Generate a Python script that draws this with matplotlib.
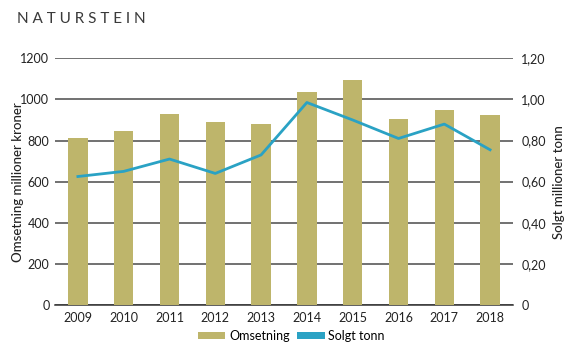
import matplotlib
matplotlib.use("Agg")
import matplotlib.pyplot as plt
import numpy as np

years = ["2009", "2010", "2011", "2012", "2013", "2014", "2015", "2016", "2017", "2018"]
omsetning = [812, 848, 928, 890, 882, 1035, 1095, 906, 948, 925]
solgt_tonn = [0.625, 0.650, 0.710, 0.640, 0.730, 0.985, 0.900, 0.810, 0.880, 0.755]
left_ticks = [0, 200, 400, 600, 800, 1000, 1200]
right_ticks = [0, 0.2, 0.4, 0.6, 0.8, 1.0, 1.2]
right_labels = ["0", "0,20", "0,40", "0,60", "0,80", "1,00", "1,20"]

plt.rcParams['font.family'] = ['Lato', 'DejaVu Sans']

fig = plt.figure(figsize=(5.71, 3.54), dpi=100)
ax = fig.add_axes([0.0963, 0.1384, 0.8021, 0.6969])
x = np.arange(len(years))

bar_color = "#BEB56B"
line_color = "#2AA2C4"

ax.bar(x, omsetning, width=0.42, color=bar_color, zorder=3, label="Omsetning")
ax.set_xlim(-0.5, len(years) - 0.5)
ax.set_ylim(0, 1200)
ax.set_yticks(left_ticks)
ax.set_yticklabels([str(t) for t in left_ticks])
ax.yaxis.grid(True, color="#4a4a4a", linewidth=1.1, zorder=0)
ax.set_axisbelow(True)
for s in ["top", "right", "left"]:
    ax.spines[s].set_visible(False)
ax.spines["bottom"].set_color("#333333")
ax.spines["bottom"].set_linewidth(1.1)
ax.tick_params(axis="y", length=0, pad=4, labelsize=9, labelcolor="#222222")
ax.tick_params(axis="x", length=0, pad=5, labelsize=9, labelcolor="#222222")
ax.set_xticks(x)
ax.set_xticklabels(years)
ax.set_ylabel("Omsetning millioner kroner", fontsize=9.5, color="#222222",
              fontweight="medium")
ax.yaxis.set_label_coords(-0.068, 0.5)

ax2 = ax.twinx()
ax2.plot(x, solgt_tonn, color=line_color, linewidth=2.0, zorder=4, label="Solgt tonn")
ax2.set_ylim(0, 1.2)
ax2.set_yticks(right_ticks)
ax2.set_yticklabels(right_labels)
for s in ["top", "right", "left", "bottom"]:
    ax2.spines[s].set_visible(False)
ax2.tick_params(axis="y", length=0, pad=6, labelsize=9, labelcolor="#222222")
ax2.set_ylabel("Solgt millioner tonn", fontsize=9.5, color="#222222",
               fontweight="medium")
ax2.yaxis.set_label_coords(1.087, 0.5)

from matplotlib.patches import Patch
handles = [Patch(facecolor=bar_color, label="Omsetning"),
           Patch(facecolor=line_color, label="Solgt tonn")]
fig.legend(handles=handles, loc="center", bbox_to_anchor=(0.51, 0.052), ncol=2,
           frameon=False, fontsize=9, handlelength=2.2, handleheight=0.5,
           handletextpad=0.3, columnspacing=0.6)

fig.text(0.03, 0.945, "N A T U R S T E I N", fontsize=11, color="#3a3a3a",
         ha="left", va="center")

fig.savefig("out.png", dpi=100)
